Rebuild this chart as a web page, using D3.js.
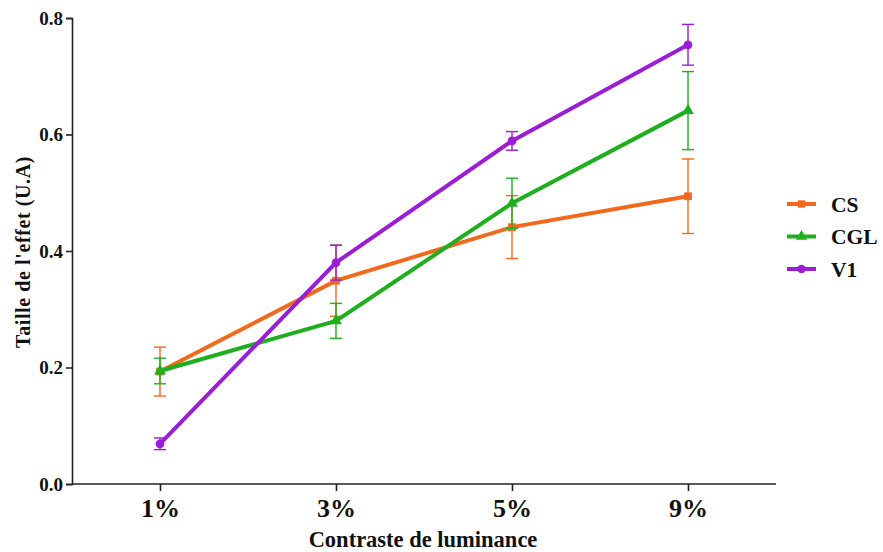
<!DOCTYPE html>
<html><head><meta charset="utf-8">
<script src="https://cdn.jsdelivr.net/npm/d3@7"></script>
<style>body{margin:0;background:#fff}svg{display:block}</style>
</head><body>
<svg id="c" width="883" height="552"></svg>
<script>
const categories = ["1%", "3%", "5%", "9%"];
const seriesNames = ["CS", "CGL", "V1"];
const csMean  = [0.193, 0.349, 0.441, 0.494];
const csErr   = [0.042, 0.061, 0.054, 0.064];
const cglMean = [0.194, 0.280, 0.482, 0.641];
const cglErr  = [0.022, 0.030, 0.043, 0.067];
const v1Mean  = [0.069, 0.380, 0.589, 0.754];
const v1Err   = [0.010, 0.030, 0.016, 0.035];
const yTicks  = [0.0, 0.2, 0.4, 0.6, 0.8];
const colors  = ["#F06A1E", "#1EAE1E", "#9A1ED4"];
const markers = [d3.symbolSquare, d3.symbolTriangle, d3.symbolCircle];

const series = [
  {name: seriesNames[0], mean: csMean, err: csErr},
  {name: seriesNames[1], mean: cglMean, err: cglErr},
  {name: seriesNames[2], mean: v1Mean, err: v1Err}
];

const svg = d3.select("#c");
const font = "'Liberation Serif','Times New Roman',serif";
const x = d3.scalePoint().domain(categories).range([72, 776]).padding(0.5);
const y = d3.scaleLinear().domain([0, 0.8]).range([484, 18]);

// axes
const yAxis = svg.append("g").attr("transform", "translate(72,0)")
  .call(d3.axisLeft(y).tickValues(yTicks).tickFormat(d3.format(".1f")).tickSize(6).tickPadding(3));
yAxis.select(".domain").attr("stroke", "#222").attr("stroke-width", 1.6);
yAxis.selectAll(".tick line").attr("stroke", "#222").attr("stroke-width", 1.6);
yAxis.selectAll("text").attr("font-family", font).attr("font-weight", "bold").attr("font-size", 19).attr("fill", "#111");

const xAxis = svg.append("g").attr("transform", "translate(0,484)")
  .call(d3.axisBottom(x).tickSize(7).tickPadding(8).tickSizeOuter(0));
xAxis.select(".domain").attr("stroke", "#222").attr("stroke-width", 1.6).attr("d", "M72,0H776");
xAxis.selectAll(".tick line").attr("stroke", "#222").attr("stroke-width", 1.6);
xAxis.selectAll("text").attr("font-family", font).attr("font-weight", "bold").attr("font-size", 26).attr("fill", "#111");

svg.append("text").attr("x", 423).attr("y", 547).attr("text-anchor", "middle")
  .attr("font-family", font).attr("font-weight", "bold").attr("font-size", 22.5).attr("fill", "#111")
  .text("Contraste de luminance");
svg.append("text").attr("transform", "translate(30,252) rotate(-90)").attr("text-anchor", "middle")
  .attr("font-family", font).attr("font-weight", "bold").attr("font-size", 20).attr("fill", "#111")
  .attr("letter-spacing", 0.6)
  .text("Taille de l'effet (U.A)");

const line = d3.line().x((d, i) => x(categories[i])).y(d => y(d));

series.forEach((s, k) => {
  const g = svg.append("g");
  // error bars
  s.mean.forEach((m, i) => {
    const cx = x(categories[i]);
    const e = s.err[i];
    g.append("line").attr("x1", cx).attr("x2", cx).attr("y1", y(m - e)).attr("y2", y(m + e))
      .attr("stroke", colors[k]).attr("stroke-width", 1.4);
    [m - e, m + e].forEach(v => {
      g.append("line").attr("x1", cx - 6).attr("x2", cx + 6).attr("y1", y(v)).attr("y2", y(v))
        .attr("stroke", colors[k]).attr("stroke-width", 1.4);
    });
  });
  g.append("path").datum(s.mean).attr("d", line).attr("fill", "none")
    .attr("stroke", colors[k]).attr("stroke-width", 4);
  g.selectAll(".m").data(s.mean).enter().append("path")
    .attr("transform", (d, i) => `translate(${x(categories[i])},${y(d)})`)
    .attr("d", d3.symbol().type(markers[k]).size(60)).attr("fill", colors[k]);
});

// legend
const legY = d3.scalePoint().domain(seriesNames).range([204, 269]);
series.forEach((s, k) => {
  const ly = legY(s.name);
  svg.append("line").attr("x1", 787).attr("x2", 816).attr("y1", ly).attr("y2", ly)
    .attr("stroke", colors[k]).attr("stroke-width", 4);
  svg.append("path").attr("transform", `translate(801.5,${ly})`)
    .attr("d", d3.symbol().type(markers[k]).size(55)).attr("fill", colors[k]);
  svg.append("text").attr("x", 831).attr("y", ly + 7.5)
    .attr("font-family", font).attr("font-weight", "bold").attr("font-size", 21.5).attr("fill", "#111")
    .text(s.name);
});
</script>
</body></html>
